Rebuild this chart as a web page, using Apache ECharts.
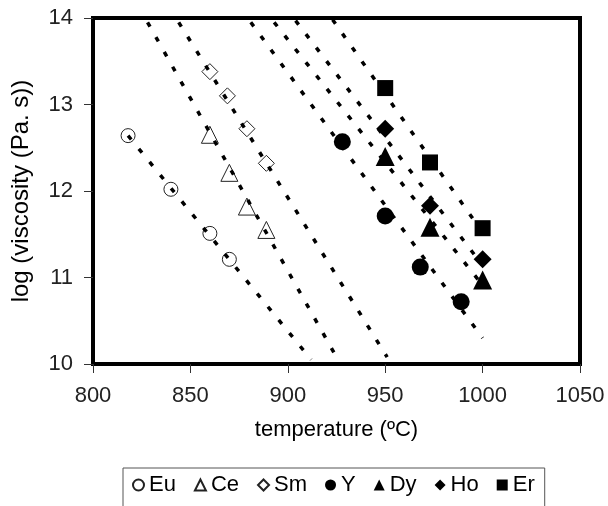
<!DOCTYPE html>
<html>
<head>
<meta charset="utf-8">
<title>viscosity</title>
<script src="https://cdn.jsdelivr.net/npm/echarts@6/dist/echarts.min.js"></script>
<style>
	html, body {
		margin: 0;
		padding: 0;
		background: #fff;
	}
	#viscosityChart {
		width: 608px;
		height: 506px;
	}
</style>
</head>
<body>
<div id="viscosityChart"></div>
<script>
	// measured points (temperature, log viscosity)
	var euX = [818, 840, 860, 870];
	var euY = [12.64, 12.02, 11.51, 11.21];
	var ceX = [860, 870, 879, 889];
	var ceY = [12.65, 12.21, 11.82, 11.55];
	var smX = [860, 869, 879, 889];
	var smY = [13.38, 13.10, 12.72, 12.32];
	var yX = [928, 950, 968, 989];
	var yY = [12.57, 11.71, 11.12, 10.72];
	var dyX = [950, 973, 1000];
	var dyY = [12.40, 11.58, 10.97];
	var hoX = [950, 973, 1000];
	var hoY = [12.72, 11.83, 11.21];
	var erX = [950, 973, 1000];
	var erY = [13.19, 12.33, 11.57];

	// dotted fit lines, start and end
	var euFit = [[818, 12.64], [912, 10.05]];
	var ceFit = [[828, 13.95], [927, 10.0]];
	var smFit = [[844, 13.95], [951, 10.08]];
	var yFit = [[881, 13.95], [1000, 10.3]];
	var dyFit = [[893, 13.95], [1000, 10.91]];
	var hoFit = [[904, 13.97], [1000, 11.14]];
	var erFit = [[923, 13.98], [1000, 11.52]];

	var names = ['Eu', 'Ce', 'Sm', 'Y', 'Dy', 'Ho', 'Er'];
	var xTicks = [800, 850, 900, 950, 1000, 1050];
	var yTicks = [10, 11, 12, 13, 14];

	function pairs(xs, ys) {
		return xs.map(function(x, i) {
			return [x, ys[i]];
		});
	}

	var font = "'Liberation Sans', Arial, sans-serif";
	// scatter defaults to 0.8 opacity, the reference marks are solid
	var openStyle = { color: '#fff', borderColor: '#222', borderWidth: 1, opacity: 1 };
	var fillStyle = { color: '#000', opacity: 1 };

	function points(name, xs, ys, symbol, size, style) {
		return {
			name: name,
			type: 'scatter',
			symbol: symbol,
			symbolSize: size,
			itemStyle: style,
			data: pairs(xs, ys),
			z: 2
		};
	}

	function fit(line) {
		return {
			type: 'line',
			data: line,
			symbol: 'none',
			silent: true,
			lineStyle: { color: '#000', width: 3.5, type: [5, 12] },
			z: 3
		};
	}

	let chart = echarts.init(document.getElementById('viscosityChart'));
	chart.setOption({
		animation: false,
		textStyle: { fontFamily: font },
		grid: {
			left: 93,
			right: 28,
			top: 18,
			bottom: 142,
			show: true,
			borderColor: '#000',
			borderWidth: 4
		},
		legend: {
			data: names,
			left: 123,
			top: 468,
			padding: [6, 10, 20, 9],
			borderColor: '#555',
			borderWidth: 1,
			itemGap: 18,
			itemWidth: 11,
			itemHeight: 11,
			textStyle: { fontSize: 22, color: '#000', fontFamily: font }
		},
		xAxis: {
			type: 'value',
			min: xTicks[0],
			max: xTicks[xTicks.length - 1],
			interval: 50,
			name: 'temperature (ºC)',
			nameLocation: 'middle',
			nameGap: 55,
			nameTextStyle: { fontSize: 22, color: '#000', fontFamily: font },
			axisLine: { show: false },
			axisTick: { show: true, length: 9, lineStyle: { color: '#333', width: 1 } },
			axisLabel: {
				margin: 21,
				fontSize: 22,
				color: '#222',
				fontFamily: font,
				formatter: function(v) { return String(v); }
			},
			splitLine: { show: false }
		},
		yAxis: {
			type: 'value',
			min: yTicks[0],
			max: yTicks[yTicks.length - 1],
			interval: 1,
			name: 'log (viscosity (Pa. s))',
			nameLocation: 'middle',
			nameGap: 60,
			nameTextStyle: { fontSize: 24, color: '#000', fontFamily: font },
			axisLine: { show: false },
			axisTick: { show: true, length: 9, lineStyle: { color: '#333', width: 1 } },
			axisLabel: { margin: 20, fontSize: 22, color: '#222', fontFamily: font },
			splitLine: { show: false }
		},
		series: [
			points('Eu', euX, euY, 'circle', 14, openStyle),
			points('Ce', ceX, ceY, 'triangle', 17, openStyle),
			points('Sm', smX, smY, 'diamond', 16, openStyle),
			points('Y', yX, yY, 'circle', 17, fillStyle),
			points('Dy', dyX, dyY, 'triangle', 19, fillStyle),
			points('Ho', hoX, hoY, 'diamond', 18, fillStyle),
			points('Er', erX, erY, 'rect', 16, fillStyle),
			fit(euFit),
			fit(ceFit),
			fit(smFit),
			fit(yFit),
			fit(dyFit),
			fit(hoFit),
			fit(erFit)
		]
	});
</script>
</body>
</html>
